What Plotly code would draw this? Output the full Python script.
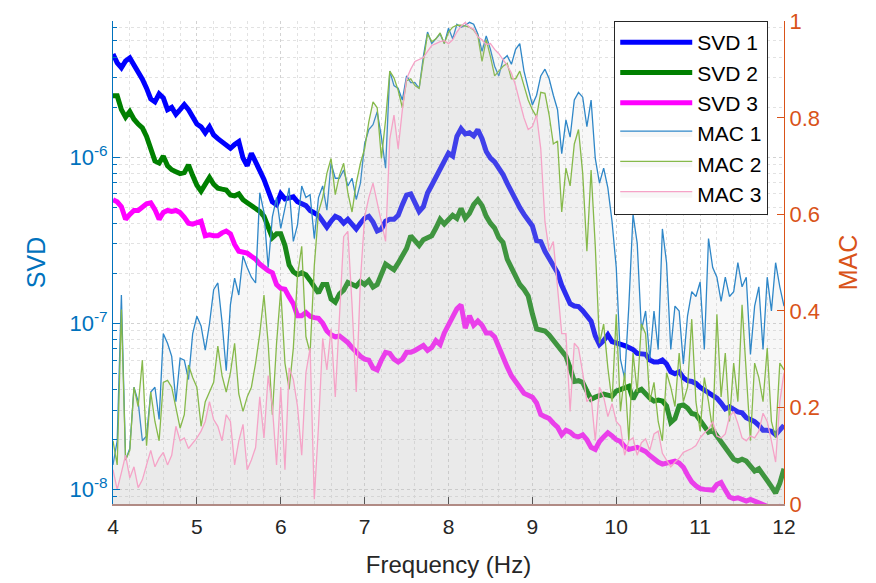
import plotly.graph_objects as go

# Frequency grid (Hz)
FREQ_START, FREQ_STEP, N_PTS = 4.0, 0.05, 161
freq = [round(FREQ_START + FREQ_STEP * i, 2) for i in range(N_PTS)]

SVD_UNIT = 1e-6  # SVD values below are given in units of 1e-6

svd1 = [4.17, 3.69, 3.45, 3.79, 3.95, 3.59, 3.23, 2.94, 2.60, 2.24, 2.15, 2.40, 2.27, 1.93, 1.99, 1.81, 1.93, 2.07, 1.93, 1.74,
        1.58, 1.52, 1.40, 1.52, 1.36, 1.29, 1.24, 1.18, 1.13, 1.19, 1.24, 0.987, 0.886, 1.055, 0.948, 0.828, 0.734, 0.641, 0.538, 0.517,
        0.600, 0.560, 0.568, 0.576, 0.538, 0.524, 0.510, 0.477, 0.458, 0.446, 0.411, 0.379, 0.411, 0.440, 0.428, 0.400, 0.422, 0.395, 0.369, 0.400,
        0.428, 0.440, 0.406, 0.359, 0.369, 0.411, 0.422, 0.422, 0.446, 0.517, 0.591, 0.600, 0.531, 0.471, 0.503, 0.608, 0.677, 0.754, 0.862, 0.960,
        1.055, 1.013, 1.33, 1.48, 1.38, 1.40, 1.34, 1.46, 1.29, 1.08, 0.987, 0.935, 0.862, 0.785, 0.695, 0.616, 0.553, 0.496, 0.452, 0.417,
        0.385, 0.314, 0.310, 0.271, 0.246, 0.227, 0.201, 0.169, 0.148, 0.131, 0.127, 0.126, 0.119, 0.110, 0.103, 0.0839, 0.0744, 0.0785, 0.0851, 0.0774,
        0.0764, 0.0744, 0.0734, 0.0714, 0.0695, 0.0658, 0.0650, 0.0650, 0.0600, 0.0584, 0.0584, 0.0600, 0.0568, 0.0510, 0.0496, 0.0510, 0.0470, 0.0451, 0.0446, 0.0434,
        0.0411, 0.0395, 0.0384, 0.0369, 0.0354, 0.0331, 0.0305, 0.0314, 0.0301, 0.0293, 0.0289, 0.0270, 0.0263, 0.0256, 0.0243, 0.0227, 0.0227, 0.0224, 0.0213, 0.0227, 0.0243]

svd2 = [2.34, 2.34, 1.93, 1.74, 1.88, 1.69, 1.58, 1.50, 1.33, 1.13, 0.948, 0.922, 1.013, 0.886, 0.839, 0.817, 0.795, 0.806, 0.898, 0.774,
        0.677, 0.624, 0.677, 0.754, 0.686, 0.650, 0.641, 0.633, 0.591, 0.584, 0.600, 0.553, 0.531, 0.510, 0.490, 0.471, 0.440, 0.374, 0.327, 0.345,
        0.345, 0.294, 0.224, 0.204, 0.196, 0.201, 0.196, 0.181, 0.167, 0.152, 0.171, 0.171, 0.140, 0.134, 0.150, 0.158, 0.176, 0.171, 0.167, 0.178,
        0.171, 0.181, 0.165, 0.171, 0.201, 0.227, 0.218, 0.210, 0.230, 0.257, 0.282, 0.336, 0.318, 0.294, 0.318, 0.327, 0.336, 0.374, 0.422, 0.395,
        0.417, 0.446, 0.428, 0.490, 0.428, 0.458, 0.517, 0.553, 0.510, 0.440, 0.400, 0.374, 0.327, 0.306, 0.243, 0.215, 0.193, 0.171, 0.160, 0.146,
        0.114, 0.0923, 0.0911, 0.0898, 0.0851, 0.0785, 0.0744, 0.0686, 0.0633, 0.0538, 0.0446, 0.0451, 0.0440, 0.0390, 0.0349, 0.0359, 0.0369, 0.0374, 0.0369, 0.0364,
        0.0390, 0.0400, 0.0411, 0.0417, 0.0349, 0.0390, 0.0400, 0.0374, 0.0354, 0.0340, 0.0345, 0.0340, 0.0318, 0.0253, 0.0267, 0.0318, 0.0322, 0.0309, 0.0286, 0.0282,
        0.0260, 0.0234, 0.0221, 0.0227, 0.0210, 0.0194, 0.0179, 0.0163, 0.0152, 0.0148, 0.0152, 0.0148, 0.0138, 0.0129, 0.0133, 0.0121, 0.0113, 0.0104, 0.0095, 0.0109, 0.0133]

svd3 = [0.553, 0.538, 0.503, 0.422, 0.452, 0.477, 0.477, 0.503, 0.524, 0.531, 0.483, 0.422, 0.464, 0.477, 0.471, 0.477, 0.464, 0.434, 0.400, 0.395,
        0.400, 0.411, 0.336, 0.340, 0.336, 0.336, 0.350, 0.359, 0.345, 0.298, 0.271, 0.267, 0.264, 0.253, 0.243, 0.227, 0.215, 0.207, 0.201, 0.171,
        0.162, 0.160, 0.144, 0.131, 0.111, 0.111, 0.116, 0.110, 0.108, 0.107, 0.100, 0.0898, 0.0851, 0.0828, 0.0839, 0.0806, 0.0764, 0.0714, 0.0668, 0.0633,
        0.0608, 0.0600, 0.0538, 0.0524, 0.0600, 0.0668, 0.0658, 0.0608, 0.0584, 0.0608, 0.0668, 0.0668, 0.0686, 0.0705, 0.0734, 0.0686, 0.0714, 0.0785, 0.0744, 0.0874,
        0.0973, 0.110, 0.122, 0.129, 0.0935, 0.111, 0.0973, 0.103, 0.0973, 0.0874, 0.0874, 0.0828, 0.0714, 0.0633, 0.0546, 0.0483, 0.0446, 0.0411, 0.0379, 0.0369,
        0.0359, 0.0331, 0.0282, 0.0274, 0.0267, 0.0250, 0.0237, 0.0213, 0.0227, 0.0221, 0.0210, 0.0207, 0.0213, 0.0199, 0.0179, 0.0174, 0.0194, 0.0207, 0.0219, 0.0210,
        0.0199, 0.0194, 0.0181, 0.0174, 0.0176, 0.0179, 0.0174, 0.0169, 0.0160, 0.0152, 0.0146, 0.0142, 0.0144, 0.0146, 0.0148, 0.0144, 0.0136, 0.0122, 0.0111, 0.0105,
        0.0101, 0.0100, 0.0099, 0.0099, 0.0107, 0.0110, 0.0099, 0.0090, 0.0088, 0.0089, 0.0087, 0.0085, 0.0087, 0.0085, 0.0083, 0.0082, 0.0079, 0.0079, 0.0078, 0.0079, 0.0078]

mac1 = [0.081, 0.131, 0.433, 0.091, 0.115, 0.242, 0.212, 0.131, 0.141, 0.232, 0.242, 0.175, 0.353, 0.333, 0.306, 0.212, 0.302, 0.298, 0.258, 0.353,
        0.389, 0.369, 0.319, 0.373, 0.444, 0.458, 0.377, 0.276, 0.413, 0.468, 0.433, 0.514, 0.490, 0.470, 0.458, 0.645, 0.605, 0.490, 0.595, 0.635,
        0.571, 0.615, 0.655, 0.544, 0.579, 0.659, 0.635, 0.641, 0.550, 0.635, 0.659, 0.609, 0.706, 0.675, 0.675, 0.692, 0.659, 0.675, 0.631, 0.665,
        0.746, 0.776, 0.786, 0.813, 0.760, 0.696, 0.897, 0.867, 0.861, 0.837, 0.887, 0.873, 0.873, 0.861, 0.927, 0.978, 0.954, 0.964, 0.974, 0.954,
        0.986, 0.964, 0.994, 0.988, 0.992, 0.998, 0.994, 0.974, 0.938, 0.970, 0.942, 0.907, 0.887, 0.921, 0.929, 0.911, 0.942, 0.954, 0.897, 0.861,
        0.827, 0.847, 0.887, 0.901, 0.881, 0.847, 0.817, 0.726, 0.796, 0.760, 0.837, 0.853, 0.843, 0.782, 0.837, 0.716, 0.665, 0.696, 0.655, 0.585,
        0.49, 0.30, 0.26, 0.41, 0.60, 0.54, 0.36, 0.40, 0.30, 0.40, 0.32, 0.57, 0.50, 0.32, 0.41, 0.40, 0.29, 0.39, 0.44, 0.43,
        0.46, 0.32, 0.55, 0.49, 0.47, 0.42, 0.47, 0.43, 0.44, 0.50, 0.45, 0.47, 0.31, 0.41, 0.45, 0.32, 0.47, 0.40, 0.50, 0.45, 0.41]

mac2 = [0.131, 0.081, 0.403, 0.091, 0.111, 0.242, 0.202, 0.298, 0.121, 0.232, 0.171, 0.131, 0.252, 0.256, 0.242, 0.202, 0.157, 0.185, 0.288, 0.262,
        0.242, 0.161, 0.212, 0.232, 0.252, 0.327, 0.266, 0.232, 0.272, 0.333, 0.228, 0.192, 0.222, 0.242, 0.292, 0.353, 0.433, 0.333, 0.185, 0.333,
        0.444, 0.292, 0.238, 0.323, 0.474, 0.534, 0.347, 0.313, 0.494, 0.605, 0.635, 0.685, 0.716, 0.641, 0.681, 0.706, 0.645, 0.605, 0.665, 0.706,
        0.736, 0.792, 0.833, 0.821, 0.716, 0.796, 0.897, 0.883, 0.857, 0.821, 0.877, 0.881, 0.867, 0.861, 0.917, 0.974, 0.958, 0.964, 0.976, 0.954,
        0.978, 0.988, 0.992, 0.992, 0.990, 0.988, 0.982, 0.970, 0.917, 0.962, 0.927, 0.887, 0.897, 0.907, 0.913, 0.881, 0.881, 0.897, 0.867, 0.837,
        0.817, 0.802, 0.853, 0.851, 0.806, 0.746, 0.752, 0.605, 0.696, 0.659, 0.746, 0.776, 0.685, 0.524, 0.692, 0.534, 0.333, 0.373, 0.282, 0.212,
        0.393, 0.192, 0.272, 0.131, 0.313, 0.232, 0.373, 0.353, 0.212, 0.252, 0.171, 0.131, 0.272, 0.242, 0.202, 0.313, 0.212, 0.242, 0.383, 0.212,
        0.151, 0.262, 0.212, 0.151, 0.393, 0.222, 0.313, 0.171, 0.292, 0.212, 0.413, 0.262, 0.131, 0.292, 0.262, 0.212, 0.323, 0.171, 0.137, 0.292, 0.278]

mac3 = [0.071, 0.030, 0.065, 0.101, 0.054, 0.077, 0.034, 0.050, 0.081, 0.111, 0.077, 0.095, 0.107, 0.081, 0.101, 0.161, 0.131, 0.137, 0.115, 0.125,
        0.137, 0.151, 0.171, 0.212, 0.175, 0.161, 0.131, 0.185, 0.171, 0.081, 0.131, 0.165, 0.071, 0.091, 0.117, 0.222, 0.137, 0.266, 0.202, 0.081,
        0.242, 0.071, 0.282, 0.258, 0.202, 0.101, 0.272, 0.323, 0.010, 0.161, 0.343, 0.278, 0.363, 0.222, 0.377, 0.554, 0.565, 0.413, 0.232, 0.464,
        0.595, 0.635, 0.665, 0.625, 0.585, 0.544, 0.756, 0.806, 0.736, 0.817, 0.881, 0.901, 0.917, 0.921, 0.925, 0.938, 0.950, 0.954, 0.958, 0.960,
        0.954, 0.962, 0.978, 0.990, 0.998, 0.988, 0.984, 0.968, 0.962, 0.952, 0.954, 0.942, 0.933, 0.921, 0.909, 0.893, 0.867, 0.833, 0.800, 0.776,
        0.782, 0.806, 0.736, 0.585, 0.524, 0.544, 0.444, 0.353, 0.353, 0.192, 0.333, 0.323, 0.272, 0.212, 0.222, 0.131, 0.242, 0.222, 0.181, 0.208,
        0.171, 0.161, 0.101, 0.131, 0.137, 0.101, 0.127, 0.135, 0.111, 0.145, 0.151, 0.105, 0.091, 0.077, 0.087, 0.095, 0.107, 0.111, 0.115, 0.121,
        0.137, 0.147, 0.155, 0.171, 0.141, 0.137, 0.145, 0.181, 0.192, 0.167, 0.137, 0.131, 0.141, 0.137, 0.151, 0.188, 0.171, 0.131, 0.087, 0.212, 0.272]

svd_series = [("SVD 1", svd1, "#0000FF"), ("SVD 2", svd2, "#008000"), ("SVD 3", svd3, "#FF00FF")]
mac_series = [("MAC 1", mac1, "#2F87C8"), ("MAC 2", mac2, "#86B94A"), ("MAC 3", mac3, "#F5A3C7")]

x_ticks = [4, 5, 6, 7, 8, 9, 10, 11, 12]
svd_tickvals = [1e-8, 1e-7, 1e-6]
svd_ticktext = ["10<sup>-8</sup>", "10<sup>-7</sup>", "10<sup>-6</sup>"]
svd_minor_tickvals = [m * d for d in (1e-9, 1e-8, 1e-7, 1e-6) for m in range(2, 10)]
mac_tickvals = [0, 0.2, 0.4, 0.6, 0.8, 1]
mac_ticktext = ["0", "0.2", "0.4", "0.6", "0.8", "1"]

BLUE_AX = "#0072BD"
ORANGE_AX = "#D95319"
FONT = "Liberation Sans, Arial, sans-serif"

fig = go.Figure()
for name, vals, color in svd_series:
    fig.add_trace(go.Scatter(x=freq, y=[v * SVD_UNIT for v in vals], name=name, mode="lines",
                             line=dict(color=color, width=5), yaxis="y", legendgroup=name))
for name, vals, color in mac_series:
    fig.add_trace(go.Scatter(x=freq, y=vals, name=name, mode="lines",
                             line=dict(color=color, width=1.3), fill="tozeroy",
                             fillcolor="rgba(190,190,190,0.125)", yaxis="y2", legendgroup=name))

grid_major = "#d2d2d2"
grid_minor = "#e2e2e2"

fig.update_layout(
    width=876, height=583,
    margin=dict(l=113, r=92, t=9, b=77),
    paper_bgcolor="white", plot_bgcolor="white",
    font=dict(family=FONT, size=21, color="#262626"),
    showlegend=True,
    legend=dict(x=0.747, y=1, xanchor="left", yanchor="top", bgcolor="white",
                bordercolor="#262626", borderwidth=1, font=dict(size=21, color="#000000"),
                itemwidth=72, tracegroupgap=5, traceorder="normal"),
    xaxis=dict(range=[4, 12], tickmode="array", tickvals=x_ticks, ticks="inside", ticklen=7,
               tickcolor="#555555", showline=True, linecolor="#b08a84", linewidth=1.5,
               showgrid=True, gridcolor=grid_major, griddash="dot", zeroline=False,
               minor=dict(dtick=0.2, showgrid=True, gridcolor=grid_minor, griddash="dot", ticks=""),
               tickfont=dict(size=21, color="#262626"), ticklabelstandoff=3,
               title=dict(text="Frequency (Hz)", font=dict(size=24, color="#262626"), standoff=19)),
    yaxis=dict(type="log", range=[-8.088, -5.181], tickmode="array", tickvals=svd_tickvals,
               ticktext=svd_ticktext, ticks="inside", ticklen=7, tickcolor=BLUE_AX,
               showline=True, linecolor=BLUE_AX, linewidth=1, zeroline=False,
               showgrid=True, gridcolor=grid_major, griddash="dot",
               minor=dict(tickmode="array", tickvals=svd_minor_tickvals, ticks="inside", ticklen=4,
                          tickcolor=BLUE_AX, showgrid=True, gridcolor=grid_minor, griddash="dot"),
               tickfont=dict(size=22, color=BLUE_AX),
               title=dict(text="SVD", font=dict(size=25, color=BLUE_AX), standoff=16)),
    yaxis2=dict(overlaying="y", side="right", range=[0, 1.0008], tickmode="array",
                tickvals=mac_tickvals, ticktext=mac_ticktext, ticks="inside", ticklen=7,
                tickcolor=ORANGE_AX, showline=True, linecolor=ORANGE_AX, linewidth=1,
                showgrid=False, zeroline=False, ticklabeloverflow="allow",
                tickfont=dict(size=22, color=ORANGE_AX),
                title=dict(text="MAC", font=dict(size=25, color=ORANGE_AX), standoff=20)),
)

fig.write_html("out.html", config={"displayModeBar": False},
               post_script="document.body.style.margin='0';")
